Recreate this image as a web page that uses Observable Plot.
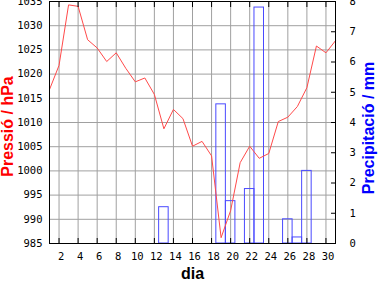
<!DOCTYPE html>
<html><head><meta charset="utf-8">
<script src="https://cdn.jsdelivr.net/npm/d3@7"></script>
<script src="https://cdn.jsdelivr.net/npm/@observablehq/plot@0.6"></script>
<style>body{margin:0;background:#fff}</style>
</head><body><div id="chart"></div>
<script>
const days = d3.range(1, 32);
const pressure = [1016.8, 1021.8, 1034.3, 1034.0, 1027.1, 1025.4, 1022.6, 1024.4, 1021.2, 1018.4,
                  1019.2, 1015.8, 1008.7, 1012.7, 1010.8, 1005.1, 1006.1, 1003.1, 986.2, 991.8,
                  1001.7, 1005.1, 1002.6, 1003.6, 1010.2, 1011.1, 1013.3, 1017.2, 1025.8, 1024.4, 1026.9];
const rainDays = [13, 19, 20, 22, 23, 26, 27, 28];
const rainMm = [1.2, 4.6, 1.4, 1.8, 7.8, 0.8, 0.2, 2.4];
const xTicks = d3.range(2, 31, 2);
const pTicks = d3.range(985, 1036, 5);
const mmTicks = d3.range(0, 9);
const pMin = 985, pMax = 1035, mmMax = 8;
const toP = mm => pMin + mm * (pMax - pMin) / mmMax;
const pData = days.map((d, i) => ({day: d, p: pressure[i]}));
const rain = rainDays.map((d, i) => ({day: d, mm: rainMm[i]}));
const titleFont = {fontFamily: "Liberation Sans", fontWeight: "bold", fontSize: 16};
const tickFont = {fontFamily: "DejaVu Sans Mono", fontSize: 10.5, fill: "#000"};

const chart = Plot.plot({
  width: 384, height: 288,
  marginLeft: 49, marginRight: 49, marginTop: 1, marginBottom: 45,
  style: {fontFamily: "DejaVu Sans Mono", fontSize: "10.5px", background: "#fff", color: "#000"},
  x: {domain: [1, 31]},
  y: {domain: [pMin, pMax]},
  marks: [
    Plot.ruleX(xTicks, {x: d => d, stroke: "#a0a0a0"}),
    Plot.ruleY(pTicks.slice(1, -1), {y: d => d, stroke: "#a0a0a0"}),
    Plot.rect(rain, {x1: d => d.day - 0.5, x2: d => d.day + 0.5, y1: pMin, y2: d => toP(d.mm), stroke: "#4a4aff", fill: "none"}),
    Plot.line(pData, {x: "day", y: "p", stroke: "#ff4a4a", strokeWidth: 1}),
    Plot.frame({stroke: "#000"}),
    Plot.axisX(xTicks, {anchor: "bottom", tickSize: -5, fill: "none", label: null}),
    Plot.axisX(xTicks, {anchor: "top", tickSize: -5, fill: "none", label: null}),
    Plot.axisX(xTicks, {anchor: "bottom", tickSize: 0, tickPadding: 9, dx: 2, label: null,
      tickFormat: d => String(d), ...tickFont}),
    Plot.axisY(pTicks, {anchor: "left", tickSize: 0, tickPadding: 7, label: null,
      tickFormat: d => String(d), ...tickFont}),
    Plot.axisY(mmTicks.map(toP), {anchor: "right", tickSize: -5, fill: "none", label: null}),
    Plot.axisY(mmTicks.map(toP), {anchor: "right", tickSize: 0, tickPadding: 14, label: null,
      tickFormat: v => String(Math.round((v - pMin) * mmMax / (pMax - pMin))), ...tickFont}),
    Plot.text(["dia"], {text: d => d, frameAnchor: "bottom", dy: 35, lineAnchor: "bottom", textAnchor: "middle", fill: "#000", ...titleFont}),
    Plot.text(["Pressió / hPa"], {text: d => d, frameAnchor: "left", rotate: -90, dx: -36.5, dy: 4, lineAnchor: "bottom", textAnchor: "middle", fill: "#ff0000", ...titleFont}),
    Plot.text(["Precipitació / mm"], {text: d => d, frameAnchor: "right", rotate: -90, dx: 38, dy: 5.5, lineAnchor: "bottom", textAnchor: "middle", fill: "#0000ff", ...titleFont})
  ]
});
document.getElementById("chart").appendChild(chart);
</script>
</body></html>
